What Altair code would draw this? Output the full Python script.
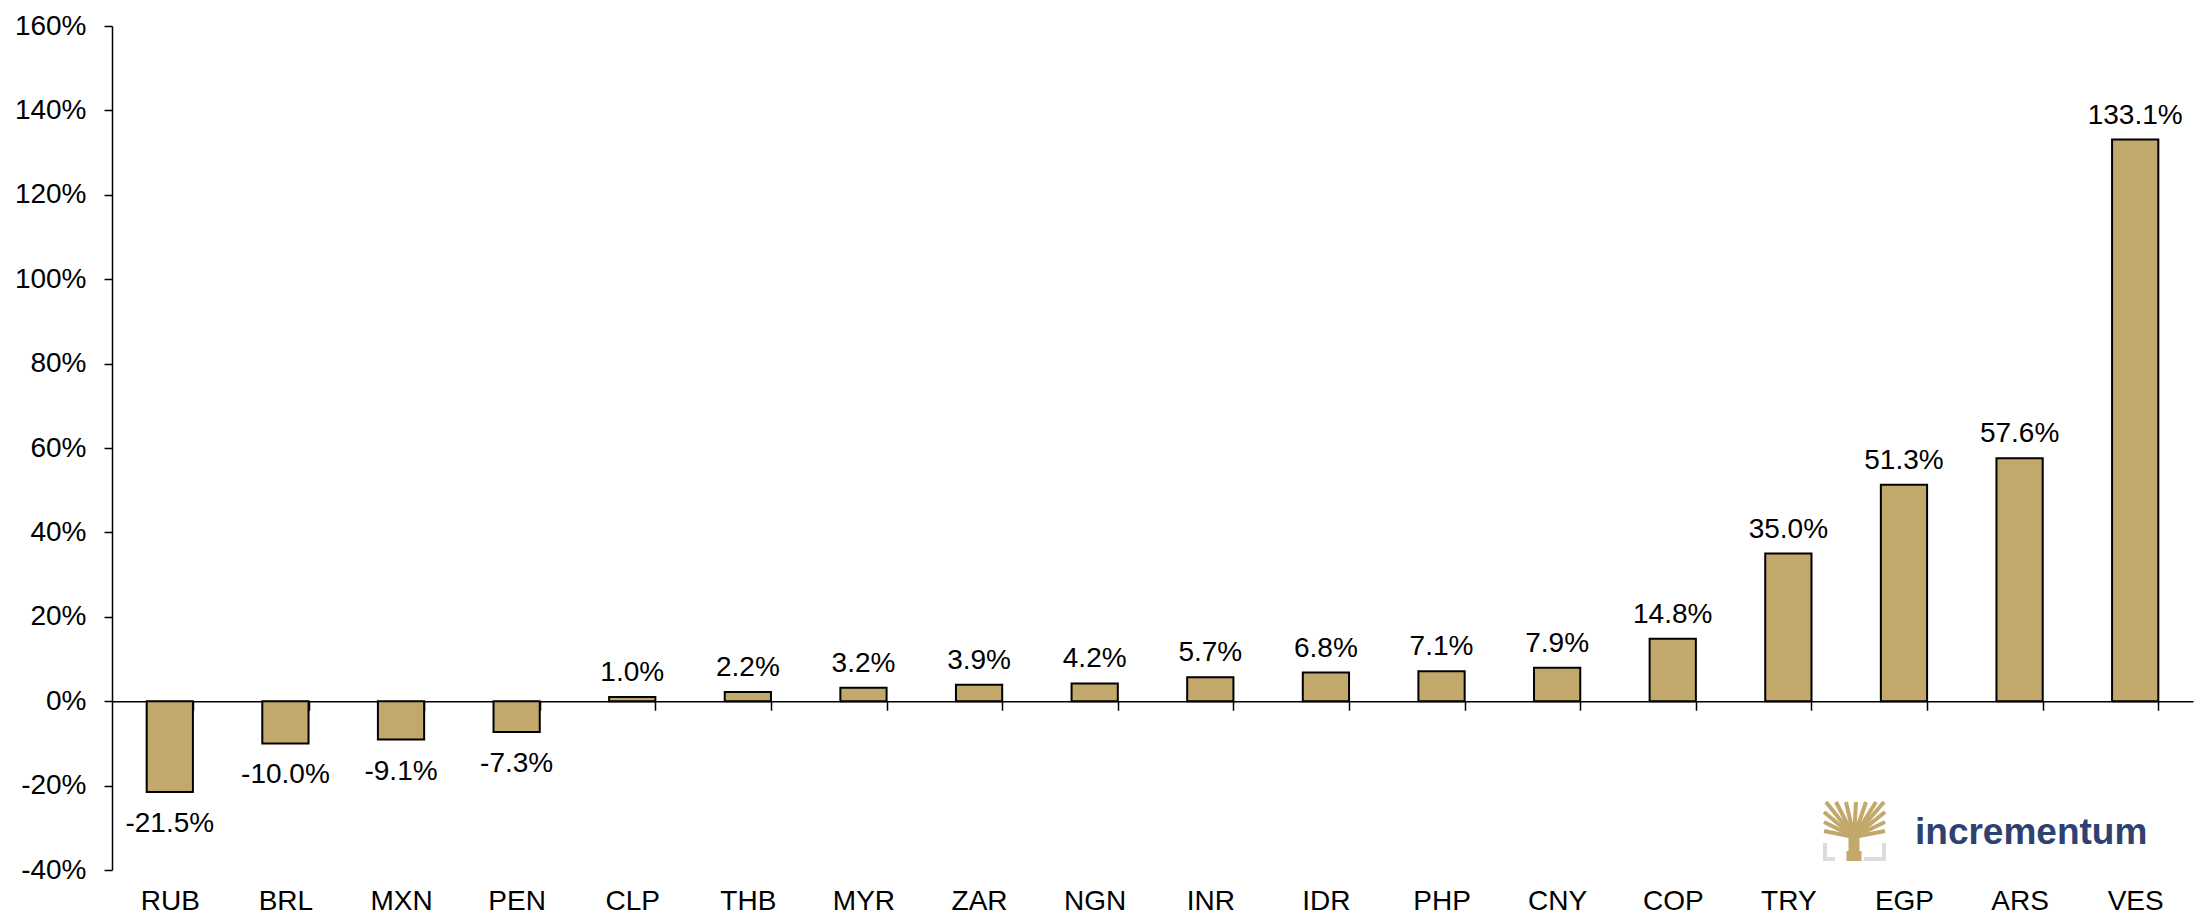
import altair as alt
import pandas as pd

# ---- data -------------------------------------------------------------
currencies = ["RUB", "BRL", "MXN", "PEN", "CLP", "THB", "MYR", "ZAR", "NGN",
              "INR", "IDR", "PHP", "CNY", "COP", "TRY", "EGP", "ARS", "VES"]
changes = [-21.5, -10.0, -9.1, -7.3, 1.0, 2.2, 3.2, 3.9, 4.2,
           5.7, 6.8, 7.1, 7.9, 14.8, 35.0, 51.3, 57.6, 133.1]
y_ticks = [-40, -20, 0, 20, 40, 60, 80, 100, 120, 140, 160]
brand_text = "incrementum"

# ---- style ------------------------------------------------------------
W, H = 2081, 844
TOP = 18
FONT = "Liberation Sans"
GOLD = "#C2A86B"
NAVY = "#2D4271"
LOGO_GRAY = "#DCDCE0"

df = pd.DataFrame({"ccy": currencies, "chg": changes})
df["label"] = [f"{v:.1f}%" for v in changes]

x_enc = alt.X(
    "ccy:N", sort=currencies, title=None,
    scale=alt.Scale(paddingInner=0.6, paddingOuter=0.3),
    axis=alt.Axis(orient="bottom", offset=-H * 0.2, domainColor="black", domainWidth=1.5,
                  tickColor="black", tickWidth=1.5, tickSize=9, tickBand="extent",
                  labelFont=FONT, labelFontSize=28, labelColor="black",
                  labelPadding=177, labelAngle=0, grid=False),
)
y_enc = alt.Y(
    "chg:Q", title=None,
    scale=alt.Scale(domain=[-40, 160], nice=False, zero=False),
    axis=alt.Axis(values=y_ticks, labelExpr="datum.value + '%'", domainColor="black",
                  domainWidth=1.5, tickColor="black", tickWidth=1.5, tickSize=8,
                  labelFont=FONT, labelFontSize=28, labelColor="black",
                  labelPadding=18, grid=False),
)

base = alt.Chart(df)
bars = base.mark_bar(color=GOLD, stroke="black", strokeWidth=2).encode(x=x_enc, y=y_enc)
pos_text = base.transform_filter("datum.chg >= 0").mark_text(
    baseline="alphabetic", dy=-16, fontSize=28, font=FONT, color="black"
).encode(x=x_enc, y=y_enc, text="label:N")
neg_text = base.transform_filter("datum.chg < 0").mark_text(
    baseline="alphabetic", dy=40, fontSize=28, font=FONT, color="black"
).encode(x=x_enc, y=y_enc, text="label:N")

main = alt.layer(bars, pos_text, neg_text)

# ---- logo (decoration, pixel space, plot coordinates) -----------------
oy = 8 + TOP  # page y of plot top
def py(page_y):
    return page_y - oy

cx, cy = 1742, py(837)
segs = []
for ex in [1714, 1724, 1734, 1744, 1754, 1764, 1772]:
    segs.append((cx, cy, ex, py(802), GOLD, 4))
for ey in [812, 822, 831]:
    segs.append((cx, cy, 1712, py(ey), GOLD, 4))
    segs.append((cx, cy, 1773, py(ey), GOLD, 4))
segs.append((cx, py(829), cx, py(861), GOLD, 11))
segs.append((cx, py(851), cx, py(861), GOLD, 15))
segs += [
    (1713, py(843), 1713, py(861), LOGO_GRAY, 4),
    (1711, py(859), 1723, py(859), LOGO_GRAY, 4),
    (1772, py(843), 1772, py(861), LOGO_GRAY, 4),
    (1752, py(859), 1774, py(859), LOGO_GRAY, 4),
]
logo_df = pd.DataFrame(segs, columns=["x", "y", "x2", "y2", "c", "sw"])
logo_rules = alt.Chart(logo_df).mark_rule(strokeCap="butt").encode(
    x=alt.X("x:Q", scale=None, axis=None), y=alt.Y("y:Q", scale=None, axis=None),
    x2="x2:Q", y2="y2:Q",
    color=alt.Color("c:N", scale=None), strokeWidth=alt.StrokeWidth("sw:Q", scale=None),
)
logo_text = alt.Chart(pd.DataFrame({"t": [brand_text], "x": [1803], "y": [py(844)]})).mark_text(
    font=FONT, fontSize=37, fontWeight="bold", color=NAVY, align="left", baseline="alphabetic"
).encode(x=alt.X("x:Q", scale=None, axis=None), y=alt.Y("y:Q", scale=None, axis=None), text="t:N")
logo = alt.layer(logo_rules, logo_text)

chart = alt.layer(main, logo).resolve_scale(x="independent", y="independent", color="independent").properties(
    width=W, height=H,
    autosize=alt.AutoSizeParams(type="none"),
    padding={"left": 104, "top": TOP, "right": 2, "bottom": 50},
    background="white",
).configure_view(stroke=None)

chart.save("out.html", embed_options={"renderer": "svg", "actions": False})
